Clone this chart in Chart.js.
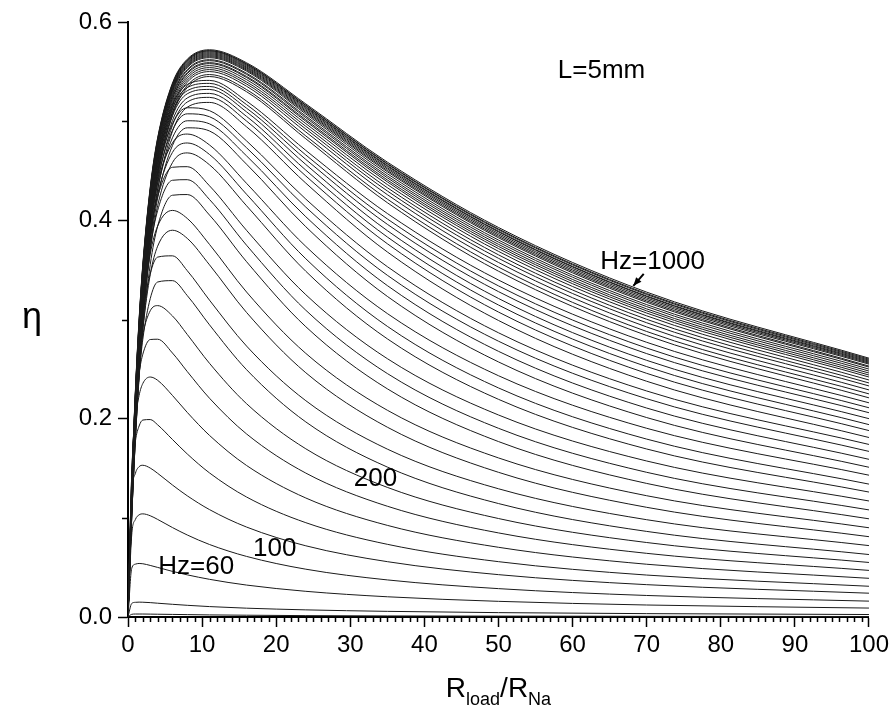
<!DOCTYPE html>
<html>
<head>
<meta charset="utf-8">
<script src="https://cdn.jsdelivr.net/npm/chart.js@4"></script>
<style>
  html, body { margin: 0; padding: 0; background: #fff; }
  #wrap { width: 893px; height: 719px; position: relative; }
</style>
</head>
<body>
<div id="wrap"><canvas id="chart"></canvas></div>
<script>
// ── Data ───────────────────────────────────────────────────
const loadRatio = [0, 0.5, 1, 1.5, 2, 3, 4, 6, 8, 11, 16, 24, 35, 50, 70, 100];
const freqHz = [20, 40, 60, 80, 100, 120, 140, 160, 180, 200, 220, 240, 260, 280, 300, 320, 340, 360, 380, 400,
  420, 440, 460, 480, 500, 520, 540, 560, 580, 600, 620, 640, 660, 680, 700, 720, 740, 760, 780, 800,
  820, 840, 860, 880, 900, 920, 940, 960, 980, 1000];
const etaCurves = [
  [0, 0.0027, 0.003, 0.003, 0.003, 0.0029, 0.0028, 0.0026, 0.0024, 0.0021, 0.0018, 0.0014, 0.0011, 0.0009, 0.0007, 0.0005],
  [0, 0.0136, 0.0148, 0.015, 0.0149, 0.0145, 0.0139, 0.0128, 0.0118, 0.0105, 0.0089, 0.0072, 0.0057, 0.0044, 0.0034, 0.0025],
  [0, 0.049, 0.0533, 0.054, 0.0537, 0.052, 0.050, 0.046, 0.0425, 0.038, 0.0322, 0.0259, 0.0204, 0.0158, 0.0121, 0.009],
  [0, 0.0827, 0.0984, 0.103, 0.104, 0.1021, 0.0984, 0.0902, 0.0827, 0.0731, 0.0611, 0.0482, 0.0374, 0.0286, 0.0217, 0.016],
  [0, 0.1222, 0.1449, 0.1516, 0.153, 0.1502, 0.1449, 0.1331, 0.1222, 0.1083, 0.0907, 0.0718, 0.0558, 0.0427, 0.0326, 0.024],
  [0, 0.1371, 0.1772, 0.1926, 0.1986, 0.1991, 0.1938, 0.179, 0.1644, 0.1453, 0.121, 0.0951, 0.0733, 0.0558, 0.0423, 0.031],
  [0, 0.1431, 0.1982, 0.2234, 0.2355, 0.242, 0.2387, 0.2234, 0.2063, 0.1831, 0.1528, 0.12, 0.0924, 0.0703, 0.0532, 0.039],
  [0, 0.1431, 0.2106, 0.2459, 0.265, 0.2798, 0.2801, 0.2662, 0.2475, 0.2206, 0.1846, 0.1451, 0.1117, 0.0848, 0.0642, 0.047],
  [0, 0.1394, 0.2151, 0.2589, 0.2849, 0.3088, 0.314, 0.3036, 0.2849, 0.2558, 0.2151, 0.1696, 0.1307, 0.0993, 0.0751, 0.055],
  [0, 0.1144, 0.1915, 0.2441, 0.2801, 0.321, 0.3378, 0.3392, 0.3241, 0.2946, 0.2494, 0.1967, 0.1512, 0.1144, 0.0863, 0.063],
  [0, 0.1293, 0.2126, 0.2677, 0.3047, 0.3461, 0.3629, 0.3642, 0.3492, 0.3195, 0.2732, 0.2181, 0.1693, 0.1293, 0.0981, 0.072],
  [0, 0.1079, 0.1875, 0.2463, 0.2898, 0.3453, 0.3739, 0.39, 0.3818, 0.3551, 0.3071, 0.2463, 0.1914, 0.1459, 0.1106, 0.081],
  [0, 0.1195, 0.2045, 0.2658, 0.3102, 0.3659, 0.3942, 0.41, 0.4019, 0.3757, 0.3277, 0.2658, 0.2085, 0.1604, 0.1223, 0.09],
  [0, 0.1008, 0.1797, 0.2412, 0.2892, 0.3552, 0.394, 0.4253, 0.426, 0.4053, 0.3583, 0.2927, 0.2301, 0.1769, 0.1347, 0.099],
  [0, 0.1098, 0.1932, 0.2569, 0.3058, 0.3718, 0.4099, 0.4404, 0.441, 0.421, 0.3749, 0.3093, 0.2455, 0.1903, 0.1459, 0.108],
  [0, 0.119, 0.2067, 0.2721, 0.3214, 0.3869, 0.424, 0.4535, 0.4541, 0.4348, 0.3899, 0.325, 0.2605, 0.2037, 0.1573, 0.117],
  [0, 0.1015, 0.1819, 0.2458, 0.2966, 0.3692, 0.4147, 0.4582, 0.468, 0.456, 0.4147, 0.3486, 0.2805, 0.2195, 0.1694, 0.126],
  [0, 0.1084, 0.1924, 0.2579, 0.3093, 0.3816, 0.4263, 0.4685, 0.478, 0.4664, 0.4263, 0.3612, 0.2931, 0.231, 0.1794, 0.134],
  [0, 0.1161, 0.2036, 0.2706, 0.3223, 0.3938, 0.4373, 0.478, 0.487, 0.476, 0.4373, 0.3737, 0.306, 0.2433, 0.1903, 0.143],
  [0, 0.0995, 0.1793, 0.2437, 0.2957, 0.3722, 0.4224, 0.4754, 0.4933, 0.4901, 0.4566, 0.3935, 0.3233, 0.2572, 0.2011, 0.151],
  [0, 0.1055, 0.1884, 0.2542, 0.3067, 0.3826, 0.4318, 0.4832, 0.5004, 0.4973, 0.465, 0.4036, 0.3342, 0.2679, 0.2107, 0.159],
  [0, 0.1114, 0.1972, 0.2642, 0.3171, 0.3926, 0.4409, 0.4908, 0.5074, 0.5045, 0.4732, 0.4133, 0.3446, 0.2781, 0.2201, 0.167],
  [0, 0.1164, 0.2046, 0.2727, 0.3258, 0.401, 0.4486, 0.4973, 0.5135, 0.5106, 0.4801, 0.4214, 0.3533, 0.2866, 0.2279, 0.174],
  [0, 0.1006, 0.1811, 0.2461, 0.299, 0.3775, 0.4305, 0.4898, 0.5141, 0.5189, 0.4943, 0.4375, 0.3681, 0.299, 0.2377, 0.181],
  [0, 0.1052, 0.1882, 0.2543, 0.3075, 0.3858, 0.4379, 0.4958, 0.5193, 0.524, 0.5001, 0.4447, 0.3764, 0.3075, 0.2457, 0.188],
  [0, 0.1092, 0.1941, 0.2611, 0.3146, 0.3925, 0.4439, 0.5006, 0.5234, 0.528, 0.5048, 0.4506, 0.3832, 0.3146, 0.2525, 0.194],
  [0, 0.113, 0.1997, 0.2675, 0.3212, 0.3988, 0.4496, 0.5053, 0.5276, 0.532, 0.5094, 0.4563, 0.3896, 0.3212, 0.2588, 0.2],
  [0, 0.1172, 0.2059, 0.2743, 0.3281, 0.4051, 0.4549, 0.5091, 0.5307, 0.535, 0.5131, 0.4614, 0.396, 0.3281, 0.2656, 0.206],
  [0, 0.1207, 0.2109, 0.28, 0.3339, 0.4104, 0.4596, 0.5127, 0.5339, 0.5381, 0.5167, 0.4659, 0.4014, 0.3339, 0.2712, 0.211],
  [0, 0.1244, 0.2162, 0.2859, 0.3398, 0.4157, 0.4643, 0.5164, 0.537, 0.5411, 0.5202, 0.4705, 0.4069, 0.3398, 0.277, 0.216],
  [0, 0.1073, 0.1912, 0.2579, 0.3116, 0.3908, 0.4443, 0.506, 0.5339, 0.545, 0.5297, 0.4822, 0.4178, 0.3487, 0.2839, 0.221],
  [0, 0.1096, 0.1947, 0.2618, 0.3156, 0.3946, 0.4477, 0.5086, 0.5361, 0.547, 0.5319, 0.4851, 0.4214, 0.3528, 0.2879, 0.225],
  [0, 0.1122, 0.1986, 0.2663, 0.3204, 0.3993, 0.452, 0.5122, 0.5393, 0.55, 0.5352, 0.4891, 0.4259, 0.3575, 0.2925, 0.229],
  [0, 0.1146, 0.2022, 0.2705, 0.3246, 0.4032, 0.4555, 0.5149, 0.5414, 0.552, 0.5375, 0.4921, 0.4296, 0.3617, 0.2967, 0.233],
  [0, 0.1167, 0.2052, 0.2739, 0.3281, 0.4066, 0.4585, 0.5174, 0.5436, 0.554, 0.5396, 0.4948, 0.4329, 0.3652, 0.3002, 0.236],
  [0, 0.1187, 0.2082, 0.2773, 0.3317, 0.41, 0.4616, 0.5198, 0.5457, 0.556, 0.5419, 0.4975, 0.4361, 0.3687, 0.3037, 0.239],
  [0, 0.1203, 0.2106, 0.28, 0.3345, 0.4127, 0.4642, 0.5221, 0.5478, 0.558, 0.544, 0.4999, 0.4388, 0.3715, 0.3065, 0.242],
  [0, 0.1217, 0.2125, 0.2822, 0.3367, 0.4148, 0.4659, 0.5235, 0.549, 0.559, 0.5451, 0.5014, 0.4407, 0.3737, 0.3087, 0.244],
  [0, 0.1227, 0.2141, 0.2841, 0.3388, 0.4169, 0.4681, 0.5255, 0.551, 0.561, 0.5472, 0.5035, 0.4429, 0.3758, 0.3107, 0.246],
  [0, 0.1241, 0.2162, 0.2863, 0.341, 0.419, 0.4699, 0.5269, 0.5521, 0.562, 0.5483, 0.5051, 0.4448, 0.378, 0.313, 0.248],
  [0, 0.1252, 0.2178, 0.2882, 0.3431, 0.4212, 0.472, 0.5289, 0.5541, 0.564, 0.5504, 0.5072, 0.447, 0.3801, 0.315, 0.25],
  [0, 0.1266, 0.2198, 0.2905, 0.3453, 0.4233, 0.4739, 0.5303, 0.5552, 0.565, 0.5515, 0.5087, 0.449, 0.3824, 0.3173, 0.252],
  [0, 0.1275, 0.2211, 0.2919, 0.3468, 0.4247, 0.4752, 0.5315, 0.5562, 0.566, 0.5525, 0.51, 0.4503, 0.3838, 0.3187, 0.253],
  [0, 0.1283, 0.2224, 0.2934, 0.3483, 0.4261, 0.4765, 0.5326, 0.5573, 0.567, 0.5536, 0.5112, 0.4518, 0.3853, 0.3202, 0.255],
  [0, 0.1292, 0.2236, 0.2948, 0.3497, 0.4276, 0.4778, 0.5337, 0.5583, 0.568, 0.5546, 0.5125, 0.4531, 0.3868, 0.3217, 0.256],
  [0, 0.1301, 0.2249, 0.2963, 0.3512, 0.429, 0.4792, 0.5349, 0.5594, 0.569, 0.5557, 0.5137, 0.4545, 0.3883, 0.3231, 0.257],
  [0, 0.1303, 0.2253, 0.2968, 0.3519, 0.4298, 0.48, 0.5358, 0.5604, 0.57, 0.5567, 0.5146, 0.4553, 0.389, 0.3237, 0.258],
  [0, 0.1312, 0.2266, 0.2982, 0.3534, 0.4312, 0.4814, 0.537, 0.5614, 0.571, 0.5577, 0.5158, 0.4567, 0.3905, 0.3252, 0.259],
  [0, 0.1319, 0.2275, 0.2992, 0.3543, 0.4319, 0.4819, 0.5372, 0.5615, 0.571, 0.5578, 0.5161, 0.4573, 0.3913, 0.3261, 0.26],
  [0, 0.1328, 0.2288, 0.3007, 0.3558, 0.4333, 0.4832, 0.5384, 0.5625, 0.572, 0.5589, 0.5174, 0.4587, 0.3928, 0.3276, 0.261]
];
const yMinorTicks = [0.1, 0.3, 0.5];

const FONT = '"Liberation Sans", Arial, sans-serif';

// ── Annotations, minor ticks, axis titles ──────────────────
const extras = {
  id: 'extras',
  afterDraw(chart) {
    const { ctx, chartArea: area, scales: { x, y } } = chart;
    ctx.save();

    // minor ticks
    ctx.strokeStyle = '#000';
    ctx.lineWidth = 1.5;
    ctx.beginPath();
    for (let v = 1; v < 100; v++) {
      if (v % 10 === 0) continue;
      const px = Math.round(x.getPixelForValue(v)) + 0.5;
      ctx.moveTo(px, area.bottom);
      ctx.lineTo(px, area.bottom + 5);
    }
    yMinorTicks.forEach(v => {
      const py = Math.round(y.getPixelForValue(v)) + 0.5;
      ctx.moveTo(area.left, py);
      ctx.lineTo(area.left - 6, py);
    });
    ctx.stroke();

    // curve labels
    ctx.fillStyle = '#000';
    ctx.textAlign = 'center';
    ctx.textBaseline = 'middle';
    ctx.font = '26px ' + FONT;
    ctx.fillText('L=5mm', x.getPixelForValue(63.9), y.getPixelForValue(0.551));
    ctx.fillText('Hz=1000', x.getPixelForValue(70.8), y.getPixelForValue(0.358));
    ctx.fillText('200', x.getPixelForValue(33.4), y.getPixelForValue(0.139));
    ctx.fillText('100', x.getPixelForValue(19.8), y.getPixelForValue(0.069));
    ctx.fillText('Hz=60', x.getPixelForValue(9.2), y.getPixelForValue(0.051));

    // small arrow to the 1000 Hz curve
    const tipX = x.getPixelForValue(68.2), tipY = y.getPixelForValue(0.334);
    const tailX = x.getPixelForValue(69.6), tailY = y.getPixelForValue(0.346);
    ctx.beginPath();
    ctx.moveTo(tailX, tailY);
    ctx.lineTo(tipX, tipY);
    ctx.lineWidth = 2;
    ctx.stroke();
    const ang = Math.atan2(tipY - tailY, tipX - tailX);
    ctx.beginPath();
    ctx.moveTo(tipX, tipY);
    ctx.lineTo(tipX - 9 * Math.cos(ang - 0.4), tipY - 9 * Math.sin(ang - 0.4));
    ctx.lineTo(tipX - 9 * Math.cos(ang + 0.4), tipY - 9 * Math.sin(ang + 0.4));
    ctx.closePath();
    ctx.fill();

    // x title: R_load / R_Na
    const big = '28px ' + FONT, small = '18px ' + FONT;
    const parts = [['R', big, 0], ['load', small, 8], ['/R', big, 0], ['Na', small, 8]];
    let total = 0;
    parts.forEach(p => { ctx.font = p[1]; total += ctx.measureText(p[0]).width; });
    let cx = (area.left + area.right) / 2 - total / 2;
    const base = 697;
    ctx.textAlign = 'left';
    ctx.textBaseline = 'alphabetic';
    parts.forEach(p => {
      ctx.font = p[1];
      ctx.fillText(p[0], cx, base + p[2]);
      cx += ctx.measureText(p[0]).width;
    });

    // y title
    ctx.font = '36px ' + FONT;
    ctx.textAlign = 'center';
    ctx.textBaseline = 'middle';
    ctx.fillText('η', 32, 318);

    ctx.restore();
  }
};

// ── Chart ──────────────────────────────────────────────────
const datasets = etaCurves.map((curve, i) => ({
  label: freqHz[i] + ' Hz',
  data: curve.map((v, j) => ({ x: loadRatio[j], y: v })),
  borderColor: '#1a1a1a',
  borderWidth: 1,
  pointRadius: 0,
  fill: false,
  cubicInterpolationMode: 'monotone'
}));

new Chart(document.getElementById('chart'), {
  type: 'line',
  data: { datasets },
  options: {
    responsive: true,
    maintainAspectRatio: false,
    animation: false,
    layout: { padding: { left: 0, top: 22, right: 23, bottom: 0 } },
    plugins: { legend: { display: false }, tooltip: { enabled: false } },
    scales: {
      x: {
        type: 'linear',
        min: 0,
        max: 100,
        afterFit: s => { s.height = 102; },
        ticks: { stepSize: 10, color: '#000', padding: 4, font: { size: 24, family: FONT } },
        grid: { drawOnChartArea: false, drawTicks: true, tickLength: 10, tickWidth: 1.5, tickColor: '#000' },
        border: { display: true, color: '#000', width: 2 }
      },
      y: {
        type: 'linear',
        min: 0,
        max: 0.6,
        afterFit: s => { s.width = 128; },
        ticks: {
          stepSize: 0.2,
          color: '#000',
          padding: 6,
          font: { size: 24, family: FONT },
          callback: v => v.toFixed(1)
        },
        grid: { drawOnChartArea: false, drawTicks: true, tickLength: 10, tickWidth: 1.5, tickColor: '#000' },
        border: { display: true, color: '#000', width: 2 }
      }
    }
  },
  plugins: [extras]
});
</script>
</body>
</html>
